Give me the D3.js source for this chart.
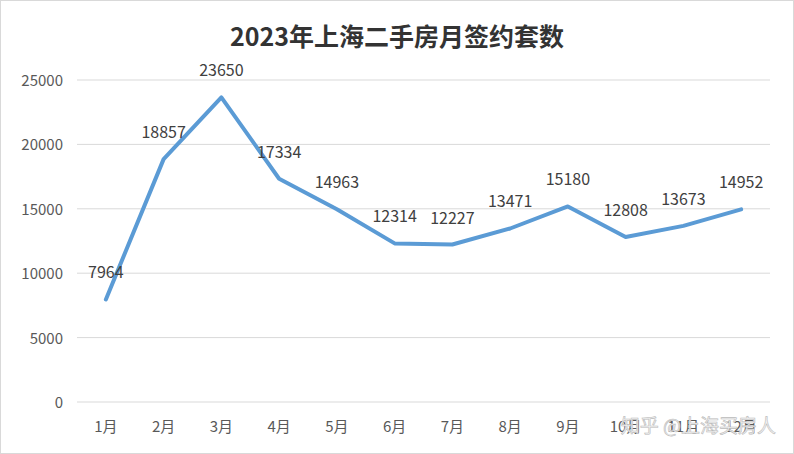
<!DOCTYPE html>
<html><head><meta charset="utf-8">
<script src="https://cdn.jsdelivr.net/npm/d3@7"></script>
<style>body{margin:0;background:#fff}</style></head>
<body><svg id="c" width="794" height="454"></svg>
<script>
const months=["1月","2月","3月","4月","5月","6月","7月","8月","9月","10月","11月","12月"];
const values=[7964,18857,23650,17334,14963,12314,12227,13471,15180,12808,13673,14952];
const yTicks=[0,5000,10000,15000,20000,25000];
const svg=d3.select("#c");
svg.append("rect").attr("x",0.5).attr("y",0.5).attr("width",793).attr("height",453).attr("fill","#fff").attr("stroke","#d9d9d9");
const x=d3.scaleBand().domain(months).range([77,770]);
const y=d3.scaleLinear().domain([0,25000]).range([402,80]);
const f="'Noto Sans CJK SC','Noto Sans',sans-serif";
svg.append("text").attr("x",397).attr("y",46).attr("text-anchor","middle").attr("font-family",f).attr("font-weight","bold").attr("font-size",25).attr("fill","#333").text("2023年上海二手房月签约套数");
svg.append("g").selectAll("line").data(yTicks).join("line").attr("x1",77).attr("x2",770).attr("y1",d=>y(d)).attr("y2",d=>y(d)).attr("stroke","#d9d9d9");
svg.append("g").selectAll("text").data(yTicks).join("text").attr("x",63).attr("y",d=>y(d)+6).attr("text-anchor","end").attr("font-family",f).attr("font-size",15).attr("fill","#595959").text(d=>d);
svg.append("g").selectAll("text").data(months).join("text").attr("x",d=>x(d)+x.bandwidth()/2).attr("y",432).attr("text-anchor","middle").attr("font-family",f).attr("font-size",15).attr("fill","#595959").text(d=>d);
const cx=(d,i)=>x(months[i])+x.bandwidth()/2;
svg.append("path").datum(values).attr("fill","none").attr("stroke","#5b9bd5").attr("stroke-width",4).attr("stroke-linejoin","round").attr("stroke-linecap","round")
 .attr("d",d3.line().x(cx).y(d=>y(d)));
svg.append("g").selectAll("text").data(values).join("text").attr("x",cx).attr("y",d=>y(d)-21).attr("text-anchor","middle").attr("font-family",f).attr("font-size",16).attr("fill","#404040").text(d=>d);
svg.append("text").attr("x",776).attr("y",433).attr("text-anchor","end").attr("font-family",f).attr("font-size",19).attr("fill","#f2f2f2").attr("stroke","#bbb").attr("stroke-width",0.6).text("知乎 @上海买房人");
</script></body></html>
